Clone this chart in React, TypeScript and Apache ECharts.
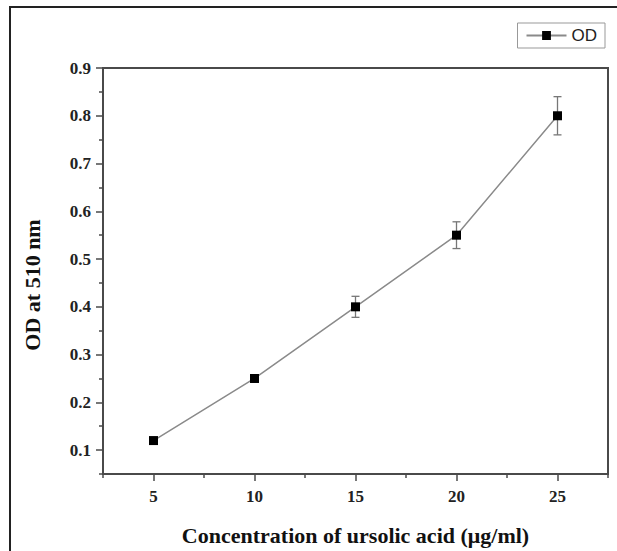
import React, { useEffect, useRef } from "react";
import * as echarts from "echarts";

const xValues = [5, 10, 15, 20, 25];
const odValues = [0.12, 0.25, 0.4, 0.55, 0.8];
const odErrors = [0.004, 0.008, 0.022, 0.028, 0.04];
const xLabelTicks = [5, 10, 15, 20, 25];
const xMinorTicks = [2.5, 7.5, 12.5, 17.5, 22.5, 27.5];
const yLabelTicks = [0.1, 0.2, 0.3, 0.4, 0.5, 0.6, 0.7, 0.8, 0.9];
const yMinorTicks = [0.05, 0.15, 0.25, 0.35, 0.45, 0.55, 0.65, 0.75, 0.85];
const seriesName = "OD";
const xTitle = "Concentration of ursolic acid (μg/ml)";
const yTitle = "OD at 510 nm";

export default function App() {
  const ref = useRef<HTMLDivElement>(null);
  useEffect(() => {
    document.body.style.margin = "0";
    const chart = echarts.init(ref.current!, null, { renderer: "svg" });
    const serif = "'Liberation Serif', 'Times New Roman', serif";
    const axisColor = "#4a4a4a";
    const lineData = xValues.map((x, i) => [x, odValues[i]]);
    const errData = xValues.map((x, i) => [x, odValues[i] - odErrors[i], odValues[i] + odErrors[i]]);
    chart.setOption({
      animation: false,
      backgroundColor: "#fff",
      graphic: [
        {
          type: "polyline",
          shape: { points: [[10, 560], [10, 7], [630, 7]] },
          style: { stroke: "#222", lineWidth: 2, fill: null },
          silent: true,
        },
      ],
      legend: {
        right: 12,
        top: 23,
        padding: [4, 8, 4, 8],
        borderColor: "#999",
        borderWidth: 1,
        itemWidth: 40,
        itemHeight: 11,
        textStyle: { fontFamily: "'Liberation Sans', Arial, sans-serif", fontSize: 17, color: "#222" },
        data: [seriesName],
      },
      grid: {
        left: 103,
        top: 68,
        right: 9,
        bottom: 72,
        show: true,
        borderColor: axisColor,
        borderWidth: 2,
        backgroundColor: "transparent",
      },
      xAxis: [
        {
          type: "value",
          min: 2.5,
          max: 27.5,
          position: "bottom",
          name: xTitle,
          nameLocation: "middle",
          nameGap: 50,
          nameTextStyle: { fontFamily: serif, fontWeight: "bold", fontSize: 22, color: "#111" },
          axisLine: { show: true, lineStyle: { color: axisColor, width: 2 } },
          axisTick: { show: true, customValues: xLabelTicks, length: 7, lineStyle: { color: axisColor, width: 1.5 } },
          axisLabel: {
            customValues: xLabelTicks,
            margin: 14,
            fontFamily: serif,
            fontWeight: "bold",
            fontSize: 17,
            color: "#222",
          },
          splitLine: { show: false },
        },
        {
          type: "value",
          min: 2.5,
          max: 27.5,
          position: "bottom",
          axisLine: { show: false },
          axisTick: { show: true, customValues: xMinorTicks, length: 4, lineStyle: { color: axisColor, width: 1.5 } },
          axisLabel: { show: false },
          splitLine: { show: false },
        },
      ],
      yAxis: [
        {
          type: "value",
          min: 0.05,
          max: 0.9,
          position: "left",
          name: yTitle,
          nameLocation: "middle",
          nameGap: 60,
          nameTextStyle: {
            fontFamily: serif,
            fontWeight: "bold",
            fontSize: 22,
            color: "#111",
            padding: [0, 28, 0, 0],
          },
          axisLine: { show: true, lineStyle: { color: axisColor, width: 2 } },
          axisTick: { show: true, customValues: yLabelTicks, length: 7, lineStyle: { color: axisColor, width: 1.5 } },
          axisLabel: {
            customValues: yLabelTicks,
            margin: 12,
            fontFamily: serif,
            fontWeight: "bold",
            fontSize: 17,
            color: "#222",
            formatter: (v: number) => v.toFixed(1),
          },
          splitLine: { show: false },
        },
        {
          type: "value",
          min: 0.05,
          max: 0.9,
          position: "left",
          axisLine: { show: false },
          axisTick: { show: true, customValues: yMinorTicks, length: 4, lineStyle: { color: axisColor, width: 1.5 } },
          axisLabel: { show: false },
          splitLine: { show: false },
        },
      ],
      series: [
        {
          type: "custom",
          name: "err",
          xAxisIndex: 0,
          yAxisIndex: 0,
          z: 1,
          data: errData,
          renderItem: (params: any, api: any) => {
            const x = api.value(0);
            const lo = api.coord([x, api.value(1)]);
            const hi = api.coord([x, api.value(2)]);
            const hw = 4;
            const style = { stroke: "#777", lineWidth: 1.3 };
            return {
              type: "group",
              children: [
                { type: "line", shape: { x1: lo[0], y1: lo[1], x2: hi[0], y2: hi[1] }, style },
                { type: "line", shape: { x1: lo[0] - hw, y1: lo[1], x2: lo[0] + hw, y2: lo[1] }, style },
                { type: "line", shape: { x1: hi[0] - hw, y1: hi[1], x2: hi[0] + hw, y2: hi[1] }, style },
              ],
            };
          },
        },
        {
          type: "line",
          name: seriesName,
          xAxisIndex: 0,
          yAxisIndex: 0,
          z: 3,
          data: lineData,
          symbol: "rect",
          symbolSize: 9,
          showAllSymbol: true,
          itemStyle: { color: "#000" },
          lineStyle: { color: "#8a8a8a", width: 1.5 },
        },
      ],
    });
    return () => chart.dispose();
  }, []);
  return <div ref={ref} style={{ width: 617, height: 551 }} />;
}
